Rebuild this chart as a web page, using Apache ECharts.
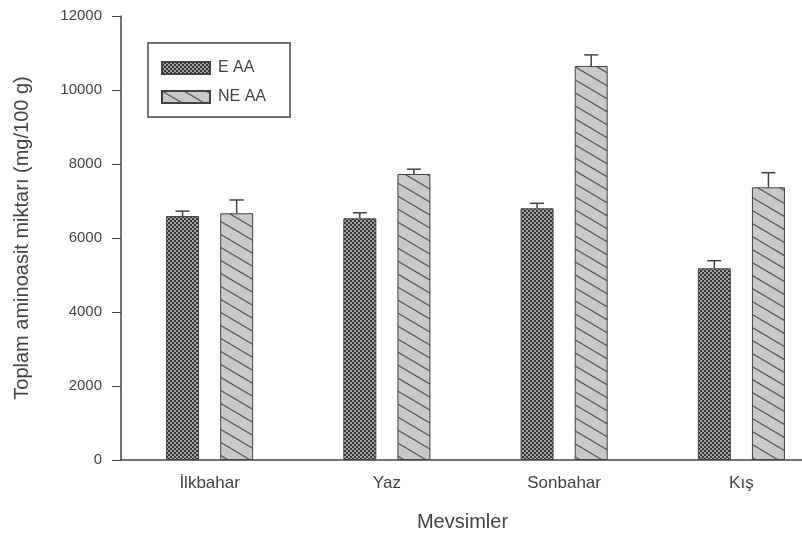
<!DOCTYPE html>
<html>
<head>
<meta charset="utf-8">
<script src="https://cdn.jsdelivr.net/npm/echarts@6/dist/echarts.min.js"></script>
<style>
html,body{margin:0;padding:0;background:#fff;overflow:hidden;width:802px;height:539px;}
#chart{width:830px;height:539px;}
</style>
</head>
<body>
<div id="chart"></div>
<script>
// ---- data ----
var categories = ['İlkbahar', 'Yaz', 'Sonbahar', 'Kış'];
var seriesNames = ['E AA', 'NE AA'];
var eaaValues = [6595, 6532, 6803, 5181];
var neaaValues = [6668, 7730, 10649, 7370];
var eaaErrors = [130, 150, 135, 205];
var neaaErrors = [360, 130, 300, 395];
var yTicks = [0, 2000, 4000, 6000, 8000, 10000, 12000];

// ---- styles ----
var BAR_W = 33;
var GAP = 0.64;
var HALF_OFFSET = (BAR_W + BAR_W * GAP) / 2;

function checkerPattern() {
  var c = document.createElement('canvas');
  c.width = 4; c.height = 4;
  var g = c.getContext('2d');
  g.fillStyle = '#363636';
  g.fillRect(0, 0, 4, 4);
  g.fillStyle = '#a4a4a4';
  g.fillRect(0, 0, 2, 2);
  g.fillRect(2, 2, 2, 2);
  return { image: c, repeat: 'repeat' };
}
function hatchPattern() {
  var w = 22, h = 13;
  var c = document.createElement('canvas');
  c.width = w; c.height = h;
  var g = c.getContext('2d');
  g.fillStyle = '#c9c9c9';
  g.fillRect(0, 0, w, h);
  g.strokeStyle = '#555';
  g.lineWidth = 1.2;
  for (var k = -1; k <= 1; k++) {
    g.beginPath();
    g.moveTo(-2, k * h - 2 * h / w);
    g.lineTo(w + 2, k * h + h + 2 * h / w);
    g.stroke();
  }
  return { image: c, repeat: 'repeat' };
}

function errSeries(vals, errs, offset) {
  return {
    type: 'custom',
    name: 'err' + offset,
    z: 5,
    silent: true,
    data: vals.map(function (v, i) { return [i, v, errs[i]]; }),
    renderItem: function (params, api) {
      var base = api.coord([api.value(0), api.value(1)]);
      var top = api.coord([api.value(0), api.value(1) + api.value(2)]);
      var x = base[0] + offset;
      var style = { stroke: '#444', lineWidth: 1.5 };
      return {
        type: 'group',
        children: [
          { type: 'line', shape: { x1: x, y1: base[1], x2: x, y2: top[1] }, style: style },
          { type: 'line', shape: { x1: x - 7, y1: top[1], x2: x + 7, y2: top[1] }, style: style }
        ]
      };
    }
  };
}

var chart = echarts.init(document.getElementById('chart'), null, { renderer: 'canvas' });
var font = 'Liberation Sans, Arial, sans-serif';
chart.setOption({
  animation: false,
  backgroundColor: '#fff',
  grid: { left: 121, right: 0, top: 16, bottom: 79, containLabel: false },
  legend: {
    data: seriesNames,
    left: 148, top: 43,
    orient: 'vertical',
    icon: 'rect',
    padding: [17, 24, 12, 13],
    itemWidth: 48, itemHeight: 12, itemGap: 13,
    borderColor: '#444', borderWidth: 1.5,
    textStyle: { fontFamily: font, fontSize: 16, color: '#444', padding: [0, 0, 0, 3] }
  },
  xAxis: {
    type: 'category',
    data: categories,
    name: 'Mevsimler',
    nameLocation: 'middle',
    nameGap: 52,
    nameTextStyle: { fontFamily: font, fontSize: 20, color: '#444', padding: [0, 26, 0, 0] },
    axisLine: { lineStyle: { color: '#444', width: 1.5 } },
    axisTick: { alignWithLabel: true, length: 5, lineStyle: { color: '#444' } },
    axisLabel: { fontFamily: font, fontSize: 17, color: '#444', margin: 15 }
  },
  yAxis: {
    type: 'value',
    min: yTicks[0], max: yTicks[yTicks.length - 1], interval: 2000,
    name: 'Toplam aminoasit miktarı (mg/100 g)',
    nameLocation: 'middle',
    nameGap: 89,
    nameTextStyle: { fontFamily: font, fontSize: 20, color: '#444' },
    axisLine: { show: true, lineStyle: { color: '#444', width: 1.5 } },
    axisTick: { show: true, length: 9, lineStyle: { color: '#444' } },
    axisLabel: { fontFamily: font, fontSize: 15, color: '#444', margin: 19,
      formatter: function (v) { return String(v); } },
    splitLine: { show: false }
  },
  series: [
    {
      type: 'bar', name: seriesNames[0], data: eaaValues,
      barWidth: BAR_W, barGap: (GAP * 100) + '%',
      itemStyle: { color: checkerPattern(), borderColor: '#444', borderWidth: 1 }
    },
    {
      type: 'bar', name: seriesNames[1], data: neaaValues,
      barWidth: BAR_W, barGap: (GAP * 100) + '%',
      itemStyle: { color: hatchPattern(), borderColor: '#444', borderWidth: 1 }
    },
    errSeries(eaaValues, eaaErrors, -HALF_OFFSET),
    errSeries(neaaValues, neaaErrors, HALF_OFFSET)
  ]
});
</script>
</body>
</html>
